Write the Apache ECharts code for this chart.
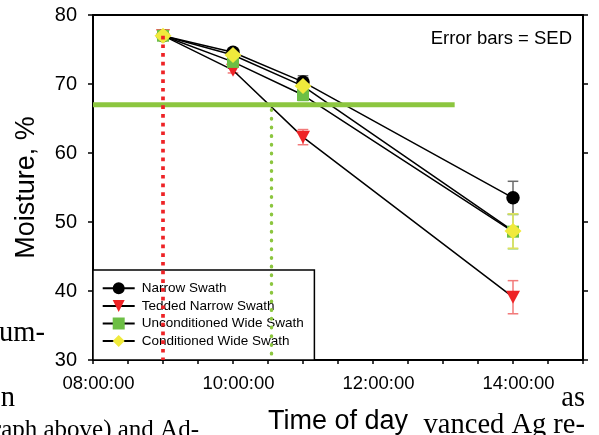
<!DOCTYPE html>
<html><head><meta charset="utf-8">
<script src="https://cdn.jsdelivr.net/npm/echarts@6/dist/echarts.min.js"></script>
<style>html,body{margin:0;padding:0;background:#fff}#c{width:599px;height:435px}</style>
</head><body><div id="c"></div>
<script>
// ---- data ----
const seriesNames = ['Narrow Swath', 'Tedded Narrow Swath', 'Unconditioned Wide Swath', 'Conditioned Wide Swath'];
const times = ['09:00:00', '10:00:00', '11:00:00', '14:00:00'];
const narrow = [77.0, 74.6, 70.3, 53.5];
const narrowErr = [0, 0.5, 0.9, 2.4];
const tedded = [77.0, 72.0, 62.3, 39.1];
const teddedErr = [0, 0.4, 1.1, 2.4];
const uncond = [77.0, 73.2, 68.4, 48.6];
const uncondErr = [0, 0.4, 0.8, 2.5];
const cond = [77.0, 74.2, 69.7, 48.7];
const condErr = [0, 0.4, 0.7, 2.5];
const xTickLabels = ['08:00:00', '10:00:00', '12:00:00', '14:00:00'];
const yTickLabels = [30, 40, 50, 60, 70, 80];
const targetMoisture = 67;
const targetLineTimes = ['08:00:00', '13:10:00'];
const teddedDryTime = '10:33:00';
const firstSampleTime = '09:00:00';

// ---- helpers ----
const toH = t => { const p = t.split(':').map(Number); return p[0] + p[1] / 60 + (p[2] || 0) / 3600; };
const fmt = v => { const h = Math.floor(v + 1e-9), m = Math.round((v - h) * 60); return String(h).padStart(2, '0') + ':' + String(m).padStart(2, '0') + ':00'; };
const hours = times.map(toH);
const FONT = "'Liberation Sans', Arial, sans-serif";
const SERIF = "'Liberation Serif', 'Times New Roman', serif";

const colors = {
  red: '#ee2326', green: '#6dbf45', yellow: '#f0ea3c', line: '#8cc63f'
};

function lineSeries(name, vals, symbol, size, color, rotate) {
  return {
    name, type: 'line', z: 4, data: hours.map((h, i) => [h, vals[i]]),
    symbol, symbolSize: size, symbolRotate: rotate || 0, showSymbol: true,
    lineStyle: { color: '#000', width: 1.5 },
    itemStyle: { color, borderWidth: 0 },
    emphasis: { disabled: true }, animation: false
  };
}
function errSeries(vals, errs, color) {
  return {
    type: 'custom', z: 3, silent: true, animation: false,
    data: hours.map((h, i) => [h, vals[i] - errs[i], vals[i] + errs[i]]),
    encode: { x: 0, y: [1, 2] },
    renderItem: (params, api) => {
      if (api.value(2) - api.value(1) <= 0) return null;
      const lo = api.coord([api.value(0), api.value(1)]);
      const hi = api.coord([api.value(0), api.value(2)]);
      const hw = 5.3, st = { stroke: color, lineWidth: 1.5 };
      return { type: 'group', children: [
        { type: 'line', shape: { x1: lo[0], y1: lo[1], x2: hi[0], y2: hi[1] }, style: st },
        { type: 'line', shape: { x1: lo[0] - hw, y1: lo[1], x2: lo[0] + hw, y2: lo[1] }, style: st },
        { type: 'line', shape: { x1: hi[0] - hw, y1: hi[1], x2: hi[0] + hw, y2: hi[1] }, style: st }
      ] };
    }
  };
}

const chart = echarts.init(document.getElementById('c'), null, { renderer: 'canvas' });
const xBase = { type: 'value', min: 8, max: 15, interval: 0.5, splitLine: { show: false } };
const yBase = { type: 'value', min: yTickLabels[0], max: yTickLabels[yTickLabels.length - 1], interval: 10, splitLine: { show: false } };

chart.setOption({
  animation: false,
  textStyle: { fontFamily: FONT },
  grid: { left: 93, right: 16, top: 15, bottom: 75, containLabel: false, outerBoundsMode: 'none' },
  xAxis: [
    Object.assign({}, xBase, {
      position: 'bottom',
      axisLine: { lineStyle: { color: '#000', width: 2 } },
      axisTick: { show: true, inside: false, length: 4, lineStyle: { color: '#000', width: 1.5 } },
      axisLabel: {
        show: true, margin: 14, fontSize: 18.5, color: '#000', fontFamily: FONT, padding: [0, 0, 0, 11],
        showMinLabel: true, showMaxLabel: true,
        formatter: v => xTickLabels.indexOf(fmt(v)) >= 0 ? fmt(v) : ''
      },
      name: 'Time of day', nameLocation: 'middle', nameGap: 48.5,
      nameTextStyle: { fontSize: 27, color: '#000', fontFamily: FONT }
    }),
    Object.assign({}, xBase, {
      position: 'top',
      axisLine: { lineStyle: { color: '#000', width: 2 } },
      axisTick: { show: false }, axisLabel: { show: false }
    })
  ],
  yAxis: [
    Object.assign({}, yBase, {
      position: 'left',
      axisLine: { show: true, lineStyle: { color: '#000', width: 2 } },
      axisTick: { show: true, inside: false, length: 5, lineStyle: { color: '#000', width: 1.5 } },
      axisLabel: { show: true, margin: 16, fontSize: 20, color: '#000', fontFamily: FONT },
      name: 'Moisture, %', nameLocation: 'middle', nameGap: 53, nameRotate: 90,
      nameTextStyle: { fontSize: 27, color: '#000', fontFamily: FONT }
    }),
    Object.assign({}, yBase, {
      position: 'right',
      axisLine: { show: true, lineStyle: { color: '#000', width: 2 } },
      axisTick: { show: true, inside: false, length: 5, lineStyle: { color: '#000', width: 1.5 } },
      axisLabel: { show: false }
    })
  ],
  legend: {
    data: seriesNames, orient: 'vertical', left: 93, top: 270, z: 5,
    itemWidth: 32, itemHeight: 15, itemGap: 2.6,
    padding: [10.8, 10.6, 11.5, 8.7],
    backgroundColor: '#fff', borderColor: '#000', borderWidth: 1.5, borderRadius: 0,
    selectedMode: false,
    textStyle: { fontFamily: FONT, fontSize: 13.5, lineHeight: 15, color: '#000', padding: [0, 0, 0, 2] }
  },
  graphic: [
    { type: 'text', z: 10, x: 572, y: 29.3, style: { text: 'Error bars = SED', align: 'right', verticalAlign: 'top', font: "18.5px " + FONT, fill: '#000' } },
    { type: 'text', z: 10, x: 45, y: 333.1, style: { text: 'um-', align: 'right', verticalAlign: 'middle', font: "28.5px " + SERIF, fill: '#000' } },
    { type: 'text', z: 10, x: 15, y: 398.7, style: { text: 'on', align: 'right', verticalAlign: 'middle', font: "28.5px " + SERIF, fill: '#000' } },
    { type: 'text', z: 10, x: 199, y: 430.1, style: { text: 'raph above) and Ad-', align: 'right', verticalAlign: 'middle', font: "25px " + SERIF, fill: '#000' } },
    { type: 'text', z: 10, x: 585, y: 398.1, style: { text: 'as', align: 'right', verticalAlign: 'middle', font: "28.5px " + SERIF, fill: '#000' } },
    { type: 'text', z: 10, x: 585, y: 425.9, style: { text: 'vanced Ag re-', align: 'right', verticalAlign: 'middle', font: "28.5px " + SERIF, fill: '#000' } }
  ],
  series: [
    errSeries(narrow, narrowErr, '#6a6a6a'),
    errSeries(tedded, teddedErr, '#f27a7a'),
    errSeries(uncond, uncondErr, '#9fd37a'),
    errSeries(cond, condErr, '#dfe25e'),
    lineSeries(seriesNames[0], narrow, 'circle', 13.5, '#000'),
    lineSeries(seriesNames[1], tedded, 'triangle', [14, 13], colors.red, 180),
    lineSeries(seriesNames[2], uncond, 'rect', 12, colors.green),
    lineSeries(seriesNames[3], cond, 'diamond', [17, 16], colors.yellow),
    { type: 'line', z: 10, silent: true, symbol: 'none', animation: false,
      data: targetLineTimes.map(t => [toH(t), targetMoisture]),
      lineStyle: { color: colors.line, width: 5 } },
    { type: 'line', z: 10, silent: true, symbol: 'none', animation: false,
      data: [[toH(firstSampleTime), narrow[0]], [toH(firstSampleTime), yTickLabels[0]]],
      lineStyle: { color: colors.red, width: 3.7, type: [3.7, 5] } },
    { type: 'line', z: 10, silent: true, symbol: 'none', animation: false,
      data: [[toH(teddedDryTime), targetMoisture], [toH(teddedDryTime), yTickLabels[0]]],
      lineStyle: { color: colors.line, width: 3.4, cap: 'round', type: [0.6, 8.1], dashOffset: -5 } }
  ]
});
</script>
</body></html>
